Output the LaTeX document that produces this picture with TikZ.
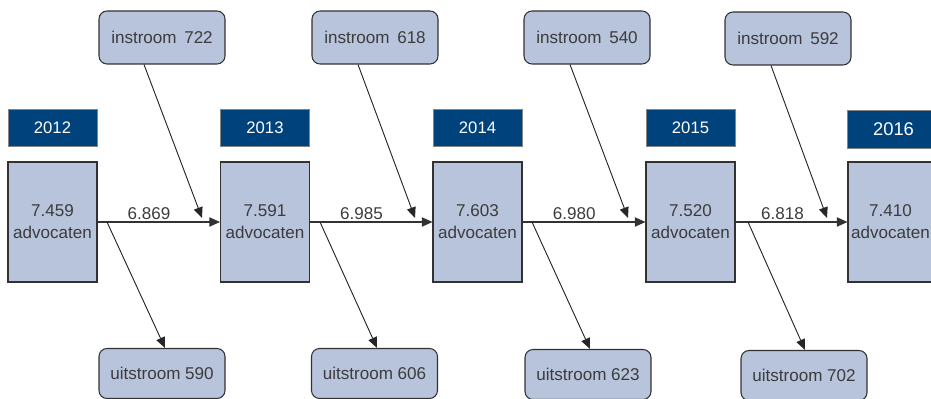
\documentclass[tikz,border=0pt]{standalone}
\usepackage{fontspec}
\setmainfont{Liberation Sans}
\usetikzlibrary{arrows.meta,calc}
\definecolor{boxfill}{RGB}{183,196,220}
\definecolor{navy}{RGB}{0,66,124}
\definecolor{txt}{RGB}{60,60,60}
\definecolor{edge}{RGB}{50,50,50}
\tikzset{
  yearbox/.style={draw=edge!60, fill=navy, text=white, minimum width=66.75pt, minimum height=27.75pt, inner sep=0pt, font=\fontsize{12.5}{14}\selectfont},
  mainbox/.style={draw=edge, line width=0.8pt, fill=boxfill, text=txt, minimum width=66.75pt, minimum height=90pt, inner sep=0pt, align=center, font=\fontsize{12.8}{16.5}\selectfont},
  maintext/.style={text=txt, inner sep=0pt, align=center, font=\fontsize{12.8}{16.5}\selectfont},
  flowbox/.style={draw=edge, line width=0.8pt, fill=boxfill, text=txt, rounded corners=6pt, minimum width=94.5pt, minimum height=39.75pt, inner sep=0pt, font=\fontsize{12.8}{14}\selectfont},
  flow/.style={draw=black!85, line width=0.7pt, -{Triangle[length=8pt,width=6.75pt]}},
  hflow/.style={draw=edge, line width=0.9pt, -{Triangle[length=8pt,width=7pt]}},
  lbl/.style={text=txt, font=\fontsize{12.8}{14}\selectfont, inner sep=1pt, anchor=south}
}
\begin{document}
\begin{tikzpicture}[x=0.75pt,y=-0.75pt]
\useasboundingbox (0,0) rectangle (931,399);
\begin{scope}
\clip (0,0) rectangle (931,399);
% year boxes
\node[yearbox] (y1) at (52.5,128) {2012};
\node[yearbox] (y2) at (265,128) {2013};
\node[yearbox] (y3) at (477.5,128) {2014};
\node[yearbox] (y4) at (690.5,128) {2015};
\node[yearbox, minimum width=69.75pt, minimum height=28.5pt, font=\fontsize{13.8}{15}\selectfont] (y5) at (893.5,129) {2016};
% main boxes
\node[mainbox] (m1) at (52.5,222) {7.459\\advocaten};
\node[mainbox] (m2) at (265,222) {7.591\\advocaten};
\node[mainbox] (m3) at (477.5,222) {7.603\\advocaten};
\node[mainbox] (m4) at (690.5,222) {7.520\\advocaten};
\node[mainbox, minimum width=69pt] (m5) at (894,222) {};
\node[maintext] (m5t) at (890.5,222) {7.410\\advocaten};
% instroom
\node[flowbox] (i1) at (162,37.5) {instroom\, 722};
\node[flowbox] (i2) at (375,37.5) {instroom\, 618};
\node[flowbox] (i3) at (587,37.5) {instroom\, 540};
\node[flowbox] (i4) at (788,38.5) {instroom\, 592};
% uitstroom
\node[flowbox, minimum height=37.5pt] (u1) at (162,373.5) {uitstroom 590};
\node[flowbox, minimum height=37.5pt] (u2) at (374.5,373.5) {uitstroom 606};
\node[flowbox, minimum height=37.5pt] (u3) at (588,374.5) {uitstroom 623};
\node[flowbox, minimum height=37.5pt] (u4) at (804,375.5) {uitstroom 702};
% split and merge points
\coordinate (s1) at (107,222);
\coordinate (s2) at (320,222);
\coordinate (s3) at (532,222);
\coordinate (s4) at (748,222);
\coordinate (t1) at (202,218);
\coordinate (t2) at (415,218);
\coordinate (t3) at (628,218);
\coordinate (t4) at (827,218);
% horizontal flows
\draw[hflow] (m1.east) -- node[lbl, pos=0.42] {6.869} (m2.west);
\draw[hflow] (m2.east) -- node[lbl, pos=0.42] {6.985} (m3.west);
\draw[hflow] (m3.east) -- node[lbl, pos=0.42] {6.980} (m4.west);
\draw[hflow] (m4.east) -- node[lbl, pos=0.42] {6.818} (m5.west);
% instroom arrows
\draw[flow] ($(i1.south)+(-18,0)$) -- (t1);
\draw[flow] ($(i2.south)+(-17,0)$) -- (t2);
\draw[flow] ($(i3.south)+(-17,0)$) -- (t3);
\draw[flow] ($(i4.south)+(-17,0)$) -- (t4);
% uitstroom arrows
\draw[flow] (s1) -- ($(u1.north)+(3,0)$);
\draw[flow] (s2) -- ($(u2.north)+(2.5,0)$);
\draw[flow] (s3) -- ($(u3.north)+(2,0)$);
\draw[flow] (s4) -- ($(u4.north)+(1,0)$);
\end{scope}
\end{tikzpicture}
\end{document}
